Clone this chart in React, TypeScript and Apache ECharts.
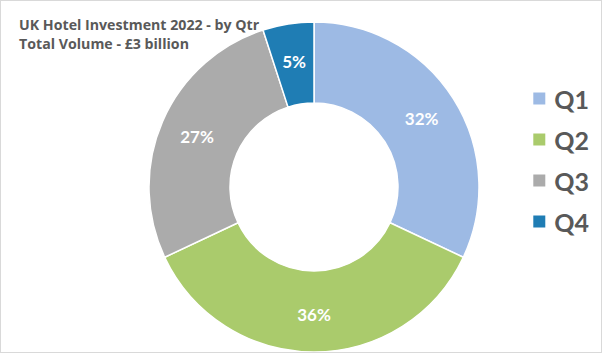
import React, { useEffect, useRef } from "react";
import * as echarts from "echarts";

const categories = ["Q1", "Q2", "Q3", "Q4"];
const shares = [32, 36, 27, 5];
const colors = ["#9DBAE4", "#AACB6C", "#ABABAB", "#1F7DB4"];
const titleLines = ["UK Hotel Investment 2022 - by Qtr", "Total Volume - £3 billion"];

export default function App() {
  const ref = useRef<HTMLDivElement>(null);
  useEffect(() => {
    document.body.style.margin = "0";
    const chart = echarts.init(ref.current!, null, { renderer: "svg" });
    chart.setOption({
      animation: false,
      backgroundColor: "#ffffff",
      title: {
        text: titleLines.join("\n"),
        left: 13,
        top: 9,
        textStyle: {
          fontFamily: "Open Sans",
          fontWeight: "bold",
          fontSize: 14.2,
          color: "#595959",
          lineHeight: 19,
        },
      },
      legend: {
        orient: "vertical",
        right: 7,
        top: 80,
        itemWidth: 14,
        itemHeight: 14,
        itemGap: 16,
        icon: "rect",
        data: categories,
        textStyle: {
          fontFamily: "Lato",
          fontWeight: "bold",
          fontSize: 25,
          color: "#595959",
          padding: [0, 0, 0, 3],
        },
      },
      series: [
        {
          type: "pie",
          center: [313, 186],
          radius: [84, 165],
          startAngle: 90,
          clockwise: true,
          label: {
            show: true,
            position: "inside",
            formatter: "{c}%",
            color: "#ffffff",
            fontFamily: "Lato",
            fontWeight: "bold",
            fontSize: 17,
          },
          labelLine: { show: false },
          itemStyle: { borderColor: "#ffffff", borderWidth: 1.5 },
          emphasis: { disabled: true },
          data: categories.map((c, i) => ({
            name: c,
            value: shares[i],
            itemStyle: { color: colors[i] },
          })),
        },
      ],
    });
    return () => chart.dispose();
  }, []);
  return (
    <div
      style={{
        position: "absolute",
        left: 0,
        top: 0,
        width: 602,
        height: 353,
        boxSizing: "border-box",
        border: "1px solid #d9d9d9",
      }}
    >
      <div ref={ref} style={{ width: 600, height: 351 }} />
    </div>
  );
}
